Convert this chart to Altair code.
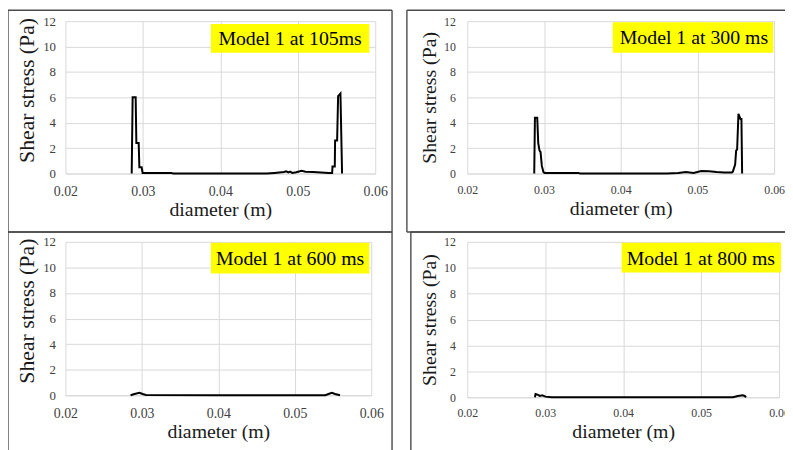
import altair as alt
import pandas as pd

# ---------------- data ----------------
x_105 = [0.02856, 0.02868, 0.02907, 0.02916, 0.02946, 0.02955, 0.02984, 0.02997, 0.0337, 0.0339,
         0.0460, 0.0470, 0.0482, 0.0485, 0.0488, 0.0490, 0.0493, 0.0498, 0.0505, 0.0510,
         0.0520, 0.0530, 0.0540, 0.05444, 0.05448, 0.05478, 0.05482, 0.05508, 0.05521, 0.05551, 0.05572]
y_105 = [0.0, 6.0, 6.0, 2.4, 2.4, 0.5, 0.5, 0.05, 0.05, 0.0,
         0.0, 0.05, 0.12, 0.18, 0.10, 0.15, 0.05, 0.10, 0.22, 0.15,
         0.12, 0.08, 0.05, 0.05, 0.55, 0.55, 2.6, 2.6, 6.1, 6.3, 0.0]

x_300 = [0.02873, 0.02882, 0.02912, 0.02925, 0.02942, 0.02955, 0.02972, 0.02994, 0.03011, 0.0345, 0.0347,
         0.0460, 0.0475, 0.0485, 0.0495, 0.0505, 0.0515, 0.0525, 0.0535, 0.0545,
         0.05462, 0.05492, 0.05505, 0.05518, 0.05535, 0.05548, 0.05561, 0.05574, 0.05583]
y_300 = [0.0, 4.4, 4.4, 2.4, 1.8, 1.7, 0.6, 0.1, 0.05, 0.05, 0.0,
         0.0, 0.05, 0.12, 0.05, 0.20, 0.18, 0.12, 0.08, 0.08,
         0.15, 0.7, 1.8, 1.9, 4.7, 4.5, 4.3, 4.3, 0.0]

x_600 = [0.02852, 0.02903, 0.02968, 0.03011, 0.03054, 0.0400, 0.05398, 0.05441, 0.05484, 0.05527, 0.05591]
y_600 = [0.0, 0.10, 0.20, 0.10, 0.02, 0.0, 0.0, 0.10, 0.20, 0.10, 0.0]

x_800 = [0.02868, 0.02876, 0.02901, 0.02931, 0.02961, 0.03003, 0.03079, 0.0400, 0.05407, 0.05471, 0.05534, 0.05560, 0.05577]
y_800 = [0.0, 0.25, 0.20, 0.10, 0.15, 0.05, 0.0, 0.0, 0.0, 0.10, 0.15, 0.10, 0.0]

labels = ["Model 1 at 105ms", "Model 1 at 300 ms", "Model 1 at 600 ms", "Model 1 at 800 ms"]
x_ticks = [0.02, 0.03, 0.04, 0.05, 0.06]
y_ticks = [0, 2, 4, 6, 8, 10, 12]

FONT = "Liberation Serif"
BORDER = "#4a4a4a"
GRID = "#d9d9d9"


def rule(x0, y0, x1, y1):
    return alt.Chart(pd.DataFrame({"k": [0]})).mark_rule(
        color=BORDER, strokeWidth=1.4
    ).encode(x=alt.value(x0), y=alt.value(y0), x2=alt.value(x1), y2=alt.value(y1))


def panel(xs, ys, label, W, H, box, text_x, borders, style):
    df = pd.DataFrame({"d": xs, "s": ys, "i": list(range(len(xs)))})
    yaxis_extra = {}
    if style.get("ytitle_y") is not None:
        yaxis_extra["titleY"] = style["ytitle_y"]
    line = alt.Chart(df).mark_line(color="black", strokeWidth=2).encode(
        x=alt.X("d:Q",
                scale=alt.Scale(domain=[0.02, 0.06], nice=False, zero=False),
                axis=alt.Axis(values=x_ticks, format=".2f", title="diameter (m)",
                              labelFont=FONT, labelFontSize=style["xlab"], labelColor="#404040",
                              labelFlush=False,
                              titleFont=FONT, titleFontSize=20, titleFontWeight="normal",
                              titleColor="#1a1a1a", labelPadding=style["xpad"],
                              titlePadding=style["tpad"],
                              domain=True, domainColor=GRID, ticks=False,
                              grid=True, gridColor=GRID)),
        y=alt.Y("s:Q",
                scale=alt.Scale(domain=[0, 12], nice=False),
                axis=alt.Axis(values=y_ticks, title="Shear stress (Pa)",
                              labelFont=FONT, labelFontSize=style["ylab"], labelColor="#404040",
                              labelFlush=False,
                              titleFont=FONT, titleFontSize=style["ytitle"], titleFontWeight="normal",
                              titleColor="#1a1a1a", labelPadding=style["ypad"], titlePadding=4,
                              domain=False, ticks=False, grid=True, gridColor=GRID,
                              **yaxis_extra)),
        order=alt.Order("i:Q"),
    )
    lab = pd.DataFrame({"t": [label]})
    bx0, bx1, by0, by1 = box
    rect = alt.Chart(lab).mark_rect(color="#ffff00").encode(
        x=alt.value(bx0), x2=alt.value(bx1), y=alt.value(by0), y2=alt.value(by1))
    txt = alt.Chart(lab).mark_text(font=FONT, fontSize=20, color="black",
                                   align="center", baseline="middle").encode(
        x=alt.value(text_x), y=alt.value((by0 + by1) / 2 + 1), text="t:N")
    rules = [rule(*b) for b in borders]
    return alt.layer(*rules, line, rect, txt).properties(width=W, height=H)


left_style_top = dict(xlab=14, ylab=13, xpad=11, tpad=1, ypad=10, ytitle=22, ytitle_y=69.5)
right_style_top = dict(xlab=12, ylab=12, xpad=11, tpad=3, ypad=12, ytitle=20, ytitle_y=None)
left_style_bot = dict(xlab=14, ylab=13, xpad=11, tpad=1.5, ypad=10, ytitle=22, ytitle_y=69.5)
right_style_bot = dict(xlab=12, ylab=12, xpad=10.5, tpad=3, ypad=12, ytitle=20, ytitle_y=None)

p1 = panel(x_105, y_105, labels[0], 313, 154, (147, 307, 3, 32), 227,
           [(-58, -11, -58, 213), (-58, -11, 330, -11), (330, -11, 330, 213), (-58, 213, 330, 213)],
           left_style_top)
p2 = panel(x_300, y_300, labels[1], 310, 154, (147, 309, 1, 32), 229,
           [(-61, -11, -61, 213), (-61, -11, 400, -11), (-61, 213, 400, 213)],
           right_style_top)
p3 = panel(x_600, y_600, labels[2], 309, 155, (147, 307, 1, 32), 227,
           [(-58, -10, -58, 230), (-58, -10, 330, -10), (330, -10, 330, 230)],
           left_style_bot)
p4 = panel(x_800, y_800, labels[3], 315, 157, (156, 317, 1, 31), 236,
           [(-57, -10, -57, 230), (-57, -10, 400, -10)],
           right_style_bot)

chart = alt.concat(
    p1, p2, p3, p4, columns=2,
    spacing={"row": 69, "column": 93},
    bounds="flush",
    align={"row": "each", "column": "none"},
).properties(
    autosize=alt.AutoSizeParams(type="none"),
    padding={"left": 58, "top": 11, "right": 727, "bottom": 431},
).configure_view(
    stroke=None
)

chart.save("out.html", embed_options={"renderer": "svg", "actions": False})
